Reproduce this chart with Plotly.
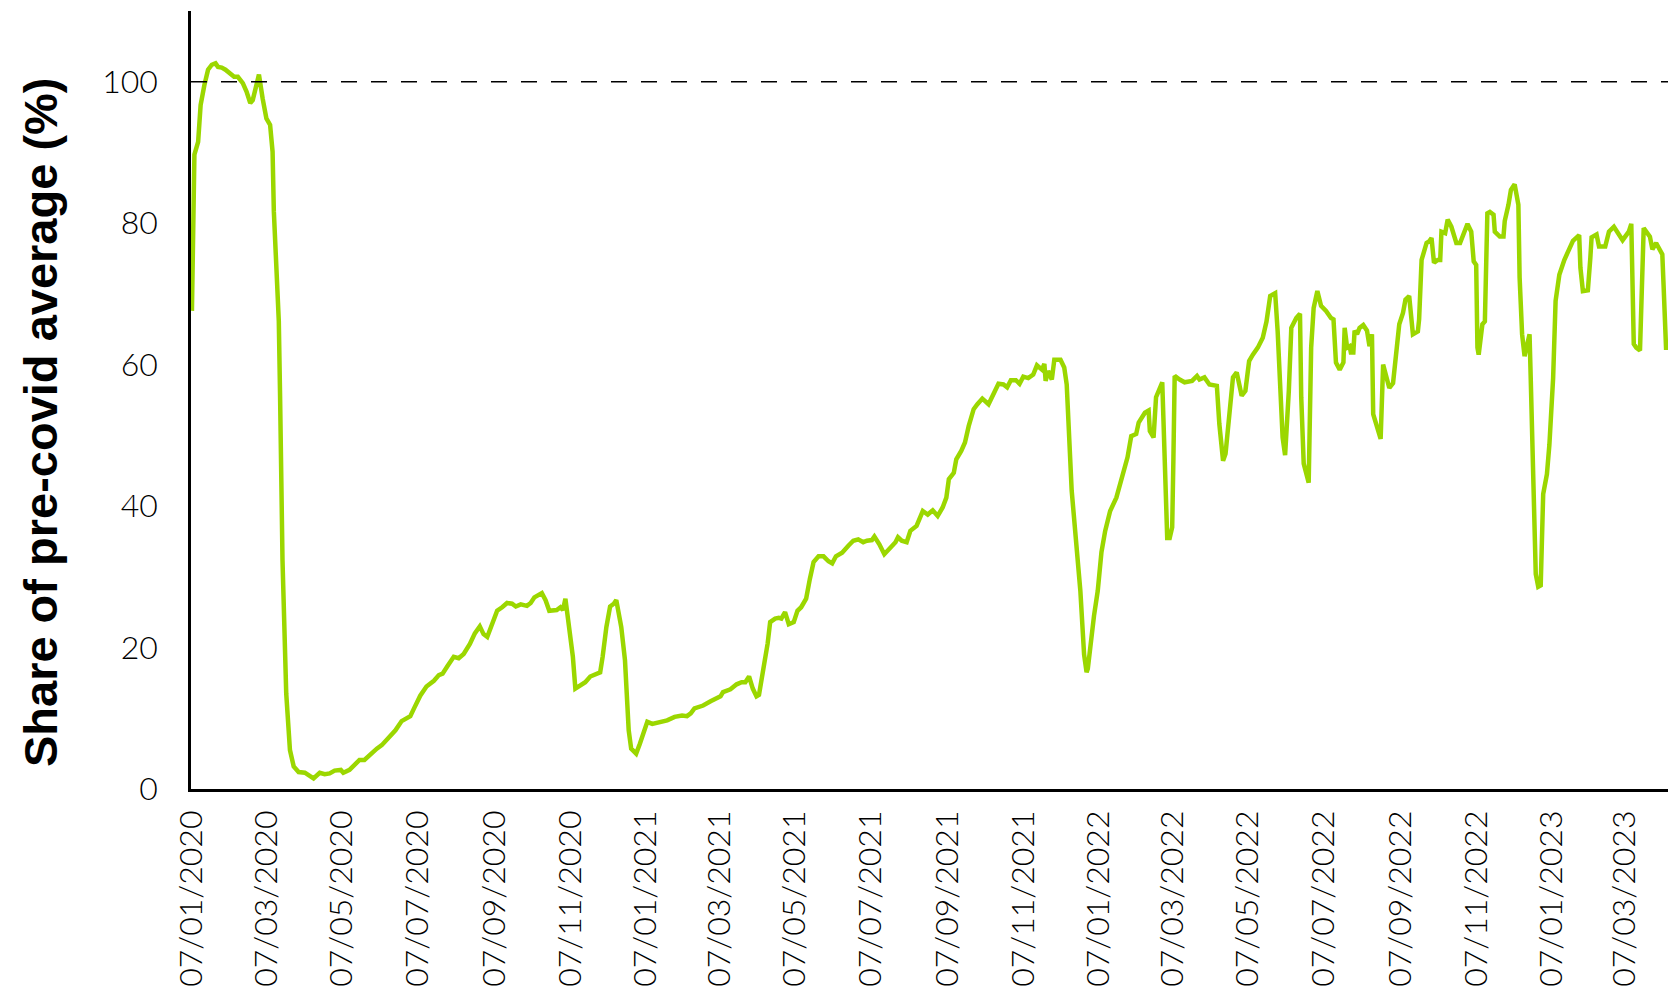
import plotly.graph_objects as go

# Values (share of pre-covid average, %)
dates = [
    "2020-01-07", "2020-01-09", "2020-01-12", "2020-01-14", "2020-01-17", "2020-01-20", "2020-01-23",
    "2020-01-26", "2020-01-28", "2020-01-31", "2020-02-03", "2020-02-07", "2020-02-10", "2020-02-13",
    "2020-02-17", "2020-02-20", "2020-02-23", "2020-02-25", "2020-02-28", "2020-03-01", "2020-03-04",
    "2020-03-07", "2020-03-10", "2020-03-12", "2020-03-13", "2020-03-15", "2020-03-17", "2020-03-18",
    "2020-03-19", "2020-03-20", "2020-03-23", "2020-03-26", "2020-03-29", "2020-04-02", "2020-04-07",
    "2020-04-10", "2020-04-14", "2020-04-19", "2020-04-23", "2020-04-27", "2020-05-01", "2020-05-06",
    "2020-05-08", "2020-05-13", "2020-05-17", "2020-05-21", "2020-05-25", "2020-05-29", "2020-06-04",
    "2020-06-08", "2020-06-13", "2020-06-19", "2020-06-24", "2020-07-01", "2020-07-04", "2020-07-09",
    "2020-07-14", "2020-07-20", "2020-07-24", "2020-07-27", "2020-07-31", "2020-08-05", "2020-08-09",
    "2020-08-13", "2020-08-18", "2020-08-22", "2020-08-26", "2020-08-29", "2020-09-01", "2020-09-05",
    "2020-09-09", "2020-09-13", "2020-09-17", "2020-09-21", "2020-09-24", "2020-09-28", "2020-10-03",
    "2020-10-06", "2020-10-09", "2020-10-15", "2020-10-18", "2020-10-21", "2020-10-27", "2020-10-30",
    "2020-11-01", "2020-11-03", "2020-11-06", "2020-11-09", "2020-11-11", "2020-11-15", "2020-11-19",
    "2020-11-23", "2020-11-27", "2020-12-01", "2020-12-03", "2020-12-06", "2020-12-09", "2020-12-12",
    "2020-12-14", "2020-12-18", "2020-12-21", "2020-12-24", "2020-12-26", "2020-12-30",
    "2021-01-02", "2021-01-05", "2021-01-08", "2021-01-12", "2021-01-17", "2021-01-24", "2021-01-30",
    "2021-02-05", "2021-02-09", "2021-02-12", "2021-02-15", "2021-02-22", "2021-02-28", "2021-03-05",
    "2021-03-08", "2021-03-10", "2021-03-16", "2021-03-21", "2021-03-25", "2021-03-28", "2021-03-31",
    "2021-04-03", "2021-04-06", "2021-04-08", "2021-04-12", "2021-04-15", "2021-04-17", "2021-04-21",
    "2021-04-24", "2021-04-26", "2021-04-29", "2021-05-02", "2021-05-06", "2021-05-09", "2021-05-12",
    "2021-05-16", "2021-05-19", "2021-05-22", "2021-05-26", "2021-05-30", "2021-06-03", "2021-06-06",
    "2021-06-09", "2021-06-14", "2021-06-19", "2021-06-23", "2021-06-27", "2021-07-01", "2021-07-04",
    "2021-07-08", "2021-07-10", "2021-07-14", "2021-07-18", "2021-07-23", "2021-07-27", "2021-07-29",
    "2021-08-01", "2021-08-05", "2021-08-08", "2021-08-13", "2021-08-16", "2021-08-18", "2021-08-22",
    "2021-08-26", "2021-08-30", "2021-09-03", "2021-09-06", "2021-09-08", "2021-09-12", "2021-09-14",
    "2021-09-18", "2021-09-21", "2021-09-24", "2021-09-28", "2021-10-01", "2021-10-05", "2021-10-10",
    "2021-10-12", "2021-10-14", "2021-10-18", "2021-10-22", "2021-10-25", "2021-10-28", "2021-11-01",
    "2021-11-04", "2021-11-07", "2021-11-11", "2021-11-15", "2021-11-18", "2021-11-22", "2021-11-24",
    "2021-11-25", "2021-11-27", "2021-11-30", "2021-12-02", "2021-12-07", "2021-12-10", "2021-12-12",
    "2021-12-16", "2021-12-19", "2021-12-23", "2021-12-26", "2021-12-28", "2021-12-29", "2021-12-31",
    "2022-01-03", "2022-01-06", "2022-01-09", "2022-01-12", "2022-01-16", "2022-01-21", "2022-01-25",
    "2022-01-30", "2022-02-02", "2022-02-06", "2022-02-08", "2022-02-13", "2022-02-16", "2022-02-17",
    "2022-02-20", "2022-02-22", "2022-02-27", "2022-03-01", "2022-03-02", "2022-03-03", "2022-03-05",
    "2022-03-07", "2022-03-08", "2022-03-09", "2022-03-13", "2022-03-17", "2022-03-23", "2022-03-27",
    "2022-03-29", "2022-04-02", "2022-04-06", "2022-04-12", "2022-04-14", "2022-04-17", "2022-04-19",
    "2022-04-22", "2022-04-25", "2022-04-28", "2022-05-02", "2022-05-05", "2022-05-08", "2022-05-11",
    "2022-05-15", "2022-05-19", "2022-05-22", "2022-05-25", "2022-05-29", "2022-05-31", "2022-06-02",
    "2022-06-04", "2022-06-06", "2022-06-09", "2022-06-11", "2022-06-15", "2022-06-18", "2022-06-19",
    "2022-06-21", "2022-06-23", "2022-06-25", "2022-06-27", "2022-06-29", "2022-07-02", "2022-07-05",
    "2022-07-09", "2022-07-13", "2022-07-15", "2022-07-17", "2022-07-20", "2022-07-23", "2022-07-24",
    "2022-07-26", "2022-07-28", "2022-07-29", "2022-07-31", "2022-08-01", "2022-08-03", "2022-08-05",
    "2022-08-08", "2022-08-11", "2022-08-13", "2022-08-15", "2022-08-16", "2022-08-19", "2022-08-22",
    "2022-08-24", "2022-08-29", "2022-09-01", "2022-09-06", "2022-09-09", "2022-09-11", "2022-09-14",
    "2022-09-17", "2022-09-21", "2022-09-22", "2022-09-24", "2022-09-28", "2022-09-30", "2022-10-02",
    "2022-10-04", "2022-10-07", "2022-10-09", "2022-10-10", "2022-10-13", "2022-10-15", "2022-10-18",
    "2022-10-22", "2022-10-25", "2022-10-28", "2022-10-31", "2022-11-03", "2022-11-05", "2022-11-07",
    "2022-11-08", "2022-11-09", "2022-11-12", "2022-11-14", "2022-11-16", "2022-11-18", "2022-11-21",
    "2022-11-22", "2022-11-26", "2022-11-29", "2022-11-30", "2022-12-03", "2022-12-05", "2022-12-08",
    "2022-12-11", "2022-12-12", "2022-12-14", "2022-12-16", "2022-12-20", "2022-12-21", "2022-12-23",
    "2022-12-25", "2022-12-27", "2022-12-29", "2022-12-31",
    "2023-01-03", "2023-01-05", "2023-01-08", "2023-01-10", "2023-01-13", "2023-01-17", "2023-01-20",
    "2023-01-24", "2023-01-29", "2023-01-30", "2023-02-01", "2023-02-05", "2023-02-07", "2023-02-08",
    "2023-02-12", "2023-02-14", "2023-02-19", "2023-02-22", "2023-02-26", "2023-03-02", "2023-03-05",
    "2023-03-10", "2023-03-12", "2023-03-14", "2023-03-16", "2023-03-19", "2023-03-22", "2023-03-27",
    "2023-03-29", "2023-04-01", "2023-04-06", "2023-04-07", "2023-04-09", "2023-04-12", "2023-04-14",
    "2023-04-16", "2023-04-19",
]

share = [
    67.6, 89.7, 91.5, 96.7, 99.5, 101.7, 102.4,
    102.6, 102.1, 102.0, 101.7, 101.0, 100.7, 100.7,
    99.8, 98.6, 97.0, 97.4, 99.3, 101.0, 97.6,
    94.8, 93.9, 90.1, 81.7, 72.7, 66.2, 56.0,
    44.0, 32.3, 13.5, 5.5, 3.2, 2.4, 2.3,
    2.0, 1.5, 2.3, 2.1, 2.2, 2.6, 2.7,
    2.3, 2.7, 3.5, 4.1, 4.1, 4.8, 5.7,
    6.2, 7.1, 8.3, 9.6, 10.3, 11.4, 13.2,
    14.5, 15.3, 16.1, 16.3, 17.4, 18.7, 18.5,
    19.1, 20.5, 22.0, 23.0, 21.9, 21.5, 23.6,
    25.2, 25.7, 26.3, 26.2, 25.8, 26.1, 25.9,
    26.3, 27.1, 27.7, 26.7, 25.2, 25.3, 25.7,
    25.3, 26.9, 22.4, 18.7, 14.2, 14.6, 15.1,
    15.9, 16.2, 16.5, 18.7, 22.9, 25.8, 26.2,
    26.7, 22.9, 18.2, 8.3, 5.7, 5.0,
    6.4, 7.8, 9.5, 9.2, 9.4, 9.7, 10.2,
    10.4, 10.3, 10.7, 11.4, 11.8, 12.4, 12.9,
    13.1, 13.7, 14.1, 14.8, 15.1, 15.1, 15.9,
    14.2, 13.1, 13.3, 17.3, 20.6, 23.6, 24.1,
    24.2, 24.1, 25.0, 23.3, 23.6, 25.2, 25.7,
    26.9, 29.7, 32.1, 32.9, 32.9, 32.2, 31.9,
    32.9, 33.4, 34.4, 35.1, 35.3, 34.9, 35.1,
    35.2, 35.7, 34.6, 33.2, 34.1, 34.9, 35.6,
    35.1, 34.9, 36.5, 37.2, 38.6, 39.3, 38.8,
    39.4, 38.6, 39.8, 41.2, 43.8, 44.7, 46.6,
    47.8, 49.0, 51.3, 53.7, 54.4, 55.2, 54.4,
    55.2, 56.0, 57.3, 57.2, 56.8, 57.8, 57.8,
    57.3, 58.3, 58.1, 58.6, 59.9, 59.3, 60.1,
    57.7, 59.1, 57.9, 60.7, 60.7, 59.6, 57.2,
    42.2, 36.5, 28.0, 19.0, 16.5, 17.0, 20.5,
    24.5, 28.0, 33.5, 36.5, 39.3, 41.2, 44.0,
    46.9, 49.9, 50.2, 51.8, 53.2, 53.5, 50.6,
    49.7, 55.4, 57.5, 46.9, 37.0, 35.5, 35.5,
    37.0, 46.9, 58.4, 57.9, 57.5, 57.7, 58.4,
    57.9, 58.2, 57.2, 57.0, 51.6, 46.4, 47.4,
    52.5, 58.2, 58.9, 55.6, 56.3, 60.5, 61.4,
    62.4, 63.8, 66.1, 69.7, 70.1, 64.7, 56.3,
    49.7, 47.2, 56.3, 65.2, 66.6, 67.2, 55.4,
    46.0, 44.3, 43.3, 62.4, 68.0, 70.4, 68.3,
    67.6, 66.6, 66.4, 60.3, 59.3, 60.3, 65.2,
    62.4, 62.6, 61.7, 61.7, 64.8, 64.3, 65.2,
    65.6, 64.8, 62.6, 64.3, 53.0, 51.1, 49.5,
    60.0, 56.7, 57.4, 65.7, 67.3, 69.2, 69.7,
    64.3, 64.7, 66.4, 74.8, 77.2, 77.4, 77.9,
    74.4, 74.8, 74.8, 78.8, 78.6, 80.5, 79.5,
    77.2, 77.2, 78.8, 79.9, 78.8, 74.6, 74.1,
    62.4, 61.4, 65.7, 66.1, 81.4, 81.6, 81.2,
    78.8, 78.1, 78.1, 80.3, 82.6, 84.7, 85.5,
    82.6, 72.3, 64.3, 61.2, 64.3, 57.7, 41.7,
    30.4, 28.6, 28.8, 41.7,
    44.5, 48.7, 58.1, 69.0, 72.7, 74.8, 76.0,
    77.5, 78.3, 73.7, 70.4, 70.5, 75.1, 78.0,
    78.4, 76.7, 76.7, 78.8, 79.5, 78.4, 77.6,
    78.8, 79.9, 62.9, 62.4, 62.0, 79.3, 78.1,
    76.3, 77.2, 75.6, 71.3, 62.4, 62.4, 66.1,
    76.0, 78.5,
]

tick_dates = [
    "2020-01-07", "2020-03-07", "2020-05-07", "2020-07-07", "2020-09-07", "2020-11-07",
    "2021-01-07", "2021-03-07", "2021-05-07", "2021-07-07", "2021-09-07", "2021-11-07",
    "2022-01-07", "2022-03-07", "2022-05-07", "2022-07-07", "2022-09-07", "2022-11-07",
    "2023-01-07", "2023-03-07",
]
tick_labels = [
    "07/01/2020", "07/03/2020", "07/05/2020", "07/07/2020", "07/09/2020", "07/11/2020",
    "07/01/2021", "07/03/2021", "07/05/2021", "07/07/2021", "07/09/2021", "07/11/2021",
    "07/01/2022", "07/03/2022", "07/05/2022", "07/07/2022", "07/09/2022", "07/11/2022",
    "07/01/2023", "07/03/2023",
]
y_ticks = [0, 20, 40, 60, 80, 100]

fig = go.Figure()
fig.add_trace(go.Scatter(x=dates, y=share, mode="lines",
                         line=dict(color="#9bd700", width=4.5)))

# pre-covid reference level
fig.add_hline(y=100, line=dict(color="black", width=1.5, dash="16px,14px"))

# y title placed as annotation so it sits where the original has it
fig.add_annotation(text="Share of pre-covid average (%)", textangle=-90,
                   xref="paper", yref="paper", x=-0.1022, y=0.4717,
                   xanchor="center", yanchor="middle", showarrow=False,
                   font=dict(family="Liberation Sans, Arial", size=47, color="black", weight=700))

# the page body keeps its default 8px margin, so the figure is 16px smaller than the window
fig.update_layout(
    width=1660, height=988,
    margin=dict(l=183, r=0, t=3, b=207),
    plot_bgcolor="white", paper_bgcolor="white",
    showlegend=False,
    xaxis=dict(type="date", range=["2020-01-06 06:00", "2023-04-10 14:00"],
               tickvals=tick_dates, ticktext=tick_labels, tickangle=-90,
               showline=True, linecolor="black", linewidth=2.5,
               showgrid=False, zeroline=False, ticks="", automargin=False,
               ticklabelstandoff=6,
               tickfont=dict(family="Lato", size=32, color="black", weight=300)),
    yaxis=dict(range=[0, 110], tickvals=y_ticks,
               showline=True, linecolor="black", linewidth=2.5,
               showgrid=False, zeroline=False, ticks="", automargin=False,
               ticklabelstandoff=24,
               tickfont=dict(family="Lato", size=32, color="black", weight=300)),
)

fig.write_html("out.html")
